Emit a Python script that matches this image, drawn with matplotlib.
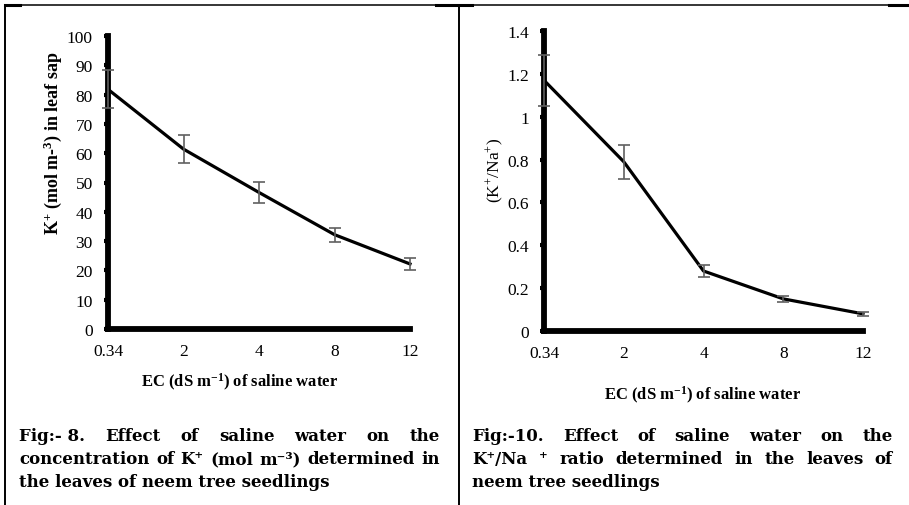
import matplotlib
matplotlib.use('Agg')
import matplotlib.pyplot as plt
from matplotlib.lines import Line2D

plt.rcParams['font.family'] = ['Liberation Serif', 'DejaVu Serif']
plt.rcParams['mathtext.fontset'] = 'custom'
plt.rcParams['mathtext.rm'] = 'Liberation Serif'
plt.rcParams['mathtext.bf'] = 'Liberation Serif:bold'
plt.rcParams['mathtext.it'] = 'Liberation Serif:italic'

# data
ec_levels = ['0.34', '2', '4', '8', '12']
k_conc = [81.8, 61.4, 46.6, 32.2, 22.2]
k_err = [6.5, 4.9, 3.6, 2.4, 1.9]
k_na_ratio = [1.17, 0.79, 0.28, 0.15, 0.08]
k_na_err = [0.12, 0.08, 0.027, 0.015, 0.008]

caption_left = [
    ['Fig:- 8.', 'Effect', 'of', 'saline', 'water', 'on', 'the'],
    ['concentration', 'of', 'K\u207a', '(mol', 'm\u207b\u00b3)', 'determined', 'in'],
    'the leaves of neem tree seedlings',
]
caption_right = [
    ['Fig:-10.', 'Effect', 'of', 'saline', 'water', 'on', 'the'],
    ['K\u207a/Na', '\u207a', 'ratio', 'determined', 'in', 'the', 'leaves', 'of'],
    'neem tree seedlings',
]

W, H = 909, 506
fig = plt.figure(figsize=(W / 100, H / 100), dpi=100)


def fx(px):
    return px / W


def fy(py):
    return 1 - py / H


def panel(rect, values, errs, ylim, yticks):
    ax = fig.add_axes(rect)
    x = list(range(len(ec_levels)))
    ax.plot(x, values, color='black', lw=2.3, zorder=3, clip_on=False)
    ax.errorbar(x, values, yerr=errs, fmt='none', ecolor='#606060',
                elinewidth=1.2, capsize=4, capthick=1.2, zorder=4, clip_on=False)
    ax.set_xlim(0, len(ec_levels) - 1)
    ax.set_ylim(*ylim)
    ax.set_xticks(x)
    ax.set_xticklabels(ec_levels)
    ax.set_yticks(yticks)
    ax.set_yticklabels([f'{v:g}' for v in yticks])
    for s in ['top', 'right']:
        ax.spines[s].set_visible(False)
    for s in ['left', 'bottom']:
        ax.spines[s].set_linewidth(4.2)
        ax.spines[s].set_capstyle('projecting')
    ax.tick_params(axis='y', length=3, width=3, direction='out', pad=8, labelsize=12.5)
    ax.tick_params(axis='x', length=0, pad=10, labelsize=12.5)
    ax.set_facecolor('none')
    return ax


panel([fx(108), fy(330), fx(410) - fx(108), fy(37) - fy(330)],
      k_conc, k_err, (0, 100), list(range(0, 101, 10)))
panel([fx(544), fy(332), fx(863) - fx(544), fy(32) - fy(332)],
      k_na_ratio, k_na_err, (0, 1.4), [0, 0.2, 0.4, 0.6, 0.8, 1, 1.2, 1.4])

fig.text(fx(53), fy(143), r'K$^{\mathbf{+}}$ (mol m-$^{\mathbf{3}}$) in leaf sap',
         rotation=90, ha='center', va='center', fontsize=13, fontweight='bold')
fig.text(fx(495), fy(170), r'(K$^{+}$/Na$^{+}$)', rotation=90,
         ha='center', va='center', fontsize=12.5)
fig.text(fx(239), fy(382), r'EC (dS m$^{\mathbf{-1}}$) of saline water',
         ha='center', va='center', fontsize=12, fontweight='bold')
fig.text(fx(702), fy(395), r'EC (dS m$^{\mathbf{-1}}$) of saline water',
         ha='center', va='center', fontsize=12, fontweight='bold')

# table borders
def fline(x0, y0, x1, y1, lw):
    fig.add_artist(Line2D([fx(x0), fx(x1)], [fy(y0), fy(y1)], color='black', lw=lw))


fline(5, 6, 909, 6, 1.1)
fline(5, 6, 20, 6, 2.2)
fline(436, 6, 472, 6, 2.2)
fline(889, 6, 909, 6, 2.2)
fline(5, 6, 5, 506, 1.4)
fline(459, 6, 459, 506, 1.4)

# justified captions
renderer = fig.canvas.get_renderer()
cap_style = dict(family='DejaVu Serif', fontweight='bold', fontsize=12, va='center')
line_y = [437, 460, 483]


def caption(lines, x0, x1):
    for i, words in enumerate(lines):
        y = fy(line_y[i])
        if isinstance(words, str):
            fig.text(fx(x0), y, words, ha='left', **cap_style)
            continue
        texts = [fig.text(0, y, w, ha='left', **cap_style) for w in words]
        widths = [t.get_window_extent(renderer).width for t in texts]
        gap = (x1 - x0 - sum(widths)) / (len(words) - 1)
        pos = x0
        for t, wd in zip(texts, widths):
            t.set_x(fx(pos))
            pos += wd + gap


caption(caption_left, 19, 440)
caption(caption_right, 472, 893)

fig.savefig('out.png', dpi=100)
